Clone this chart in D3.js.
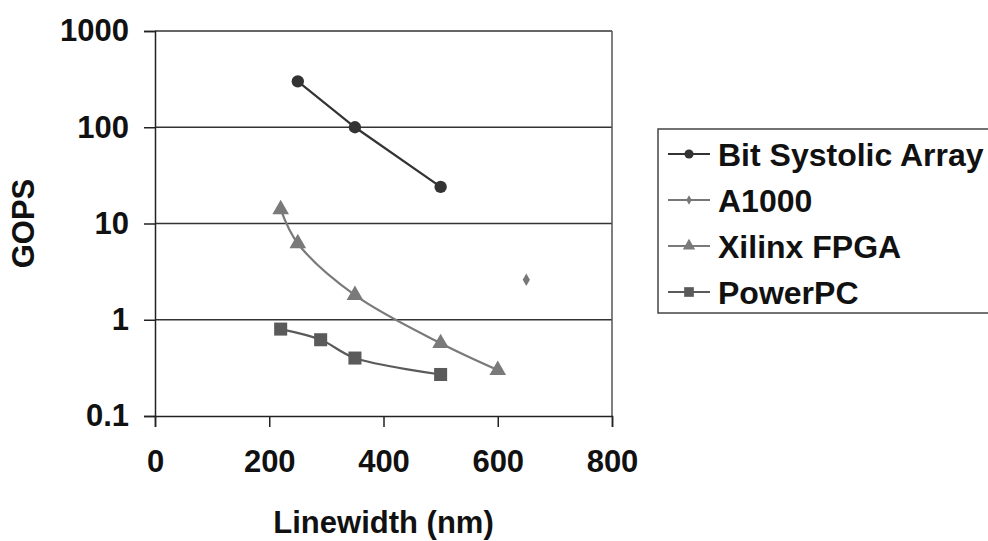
<!DOCTYPE html>
<html>
<head>
<meta charset="utf-8">
<script src="https://cdn.jsdelivr.net/npm/d3@7"></script>
<style>
  body { margin: 0; background: #fff; }
  text { font-family: "Liberation Sans", Arial, sans-serif; font-weight: bold; fill: #111; }
</style>
</head>
<body>
<svg id="chart" width="988" height="541"></svg>
<script>
// data
var seriesNames = ["Bit Systolic Array", "A1000", "Xilinx FPGA", "PowerPC"];
var bsaX = [250, 350, 500];
var bsaY = [300, 100, 24];
var a1000X = [650];
var a1000Y = [2.6];
var xilinxX = [220, 250, 350, 500, 600];
var xilinxY = [14, 6.2, 1.8, 0.57, 0.3];
var ppcX = [220, 290, 350, 500];
var ppcY = [0.8, 0.62, 0.4, 0.27];
var xTicks = [0, 200, 400, 600, 800];
var yTicks = [0.1, 1, 10, 100, 1000];

var svg = d3.select("#chart");

var x = d3.scaleLinear().domain([0, 800]).range([155, 612]);
var y = d3.scaleLog().domain([0.1, 1000]).range([416, 31]);

// gridlines
svg.append("g").selectAll("line")
  .data(yTicks.slice(1))
  .enter().append("line")
  .attr("x1", x(0)).attr("x2", x(800))
  .attr("y1", function(d) { return y(d); })
  .attr("y2", function(d) { return y(d); })
  .attr("stroke", "#333").attr("stroke-width", 1.5);

// right border of plot area
svg.append("line")
  .attr("x1", x(800)).attr("x2", x(800))
  .attr("y1", y(1000)).attr("y2", y(0.1))
  .attr("stroke", "#555").attr("stroke-width", 1.5);

var yAxis = svg.append("g")
  .attr("transform", "translate(" + x(0) + ",0)")
  .call(d3.axisLeft(y).tickValues(yTicks).tickSize(11).tickPadding(15)
    .tickFormat(function(d) { return d < 1 ? "0.1" : d3.format("d")(d); }));

var xAxis = svg.append("g")
  .attr("transform", "translate(0," + y(0.1) + ")")
  .call(d3.axisBottom(x).tickValues(xTicks).tickSize(11).tickPadding(23));

[yAxis, xAxis].forEach(function(a) {
  a.select(".domain").attr("stroke", "#222").attr("stroke-width", 1.5);
  a.selectAll(".tick line").attr("stroke", "#222").attr("stroke-width", 1.5);
  a.selectAll("text").attr("font-size", "31px").attr("fill", "#111")
    .attr("font-family", "'Liberation Sans', Arial, sans-serif").attr("font-weight", "bold");
});

// axis titles
svg.append("text")
  .attr("transform", "translate(34," + ((y(1000) + y(0.1)) / 2) + ") rotate(-90)")
  .attr("text-anchor", "middle")
  .attr("font-size", "31px")
  .text("GOPS");

svg.append("text")
  .attr("x", (x(0) + x(800)) / 2)
  .attr("y", 533)
  .attr("text-anchor", "middle")
  .attr("font-size", "31px")
  .text("Linewidth (nm)");

// series
var series = [
  { name: seriesNames[0], xs: bsaX, ys: bsaY, color: "#333", sym: d3.symbolCircle, size: 120, curve: d3.curveLinear },
  { name: seriesNames[1], xs: a1000X, ys: a1000Y, color: "#777", sym: d3.symbolDiamond, size: 45, curve: d3.curveLinear },
  { name: seriesNames[2], xs: xilinxX, ys: xilinxY, color: "#7a7a7a", sym: d3.symbolTriangle, size: 120, curve: d3.curveCatmullRom },
  { name: seriesNames[3], xs: ppcX, ys: ppcY, color: "#5a5a5a", sym: d3.symbolSquare, size: 170, curve: d3.curveCatmullRom }
];

series.forEach(function(s) {
  var pts = s.xs.map(function(v, i) { return [v, s.ys[i]]; });
  var line = d3.line()
    .x(function(d) { return x(d[0]); })
    .y(function(d) { return y(d[1]); })
    .curve(s.curve);
  if (pts.length > 1) {
    svg.append("path")
      .attr("d", line(pts))
      .attr("fill", "none")
      .attr("stroke", s.color)
      .attr("stroke-width", 2.2);
  }
  svg.append("g").selectAll("path")
    .data(pts)
    .enter().append("path")
    .attr("transform", function(d) { return "translate(" + x(d[0]) + "," + y(d[1]) + ")"; })
    .attr("d", d3.symbol().type(s.sym).size(s.size))
    .attr("fill", s.color);
});

// legend
svg.append("rect")
  .attr("x", 658).attr("y", 129)
  .attr("width", 360).attr("height", 184)
  .attr("fill", "#fff")
  .attr("stroke", "#444").attr("stroke-width", 1.5);

var itemHeight = 46;
var legend = svg.selectAll(".legend")
  .data(series)
  .enter().append("g")
  .attr("class", "legend")
  .attr("transform", function(d, i) { return "translate(668," + (154 + i * itemHeight) + ")"; });

legend.append("line")
  .attr("x1", 0).attr("x2", 42)
  .attr("stroke", function(d) { return d.color; })
  .attr("stroke-width", 2);

legend.append("path")
  .attr("transform", "translate(21,0)")
  .attr("d", function(d) { return d3.symbol().type(d.sym).size(d.size * 0.55)(); })
  .attr("fill", function(d) { return d.color; });

legend.append("text")
  .attr("x", 50)
  .attr("y", 0)
  .attr("dy", "0.36em")
  .attr("font-size", "32px")
  .text(function(d) { return d.name; });
</script>
</body>
</html>
